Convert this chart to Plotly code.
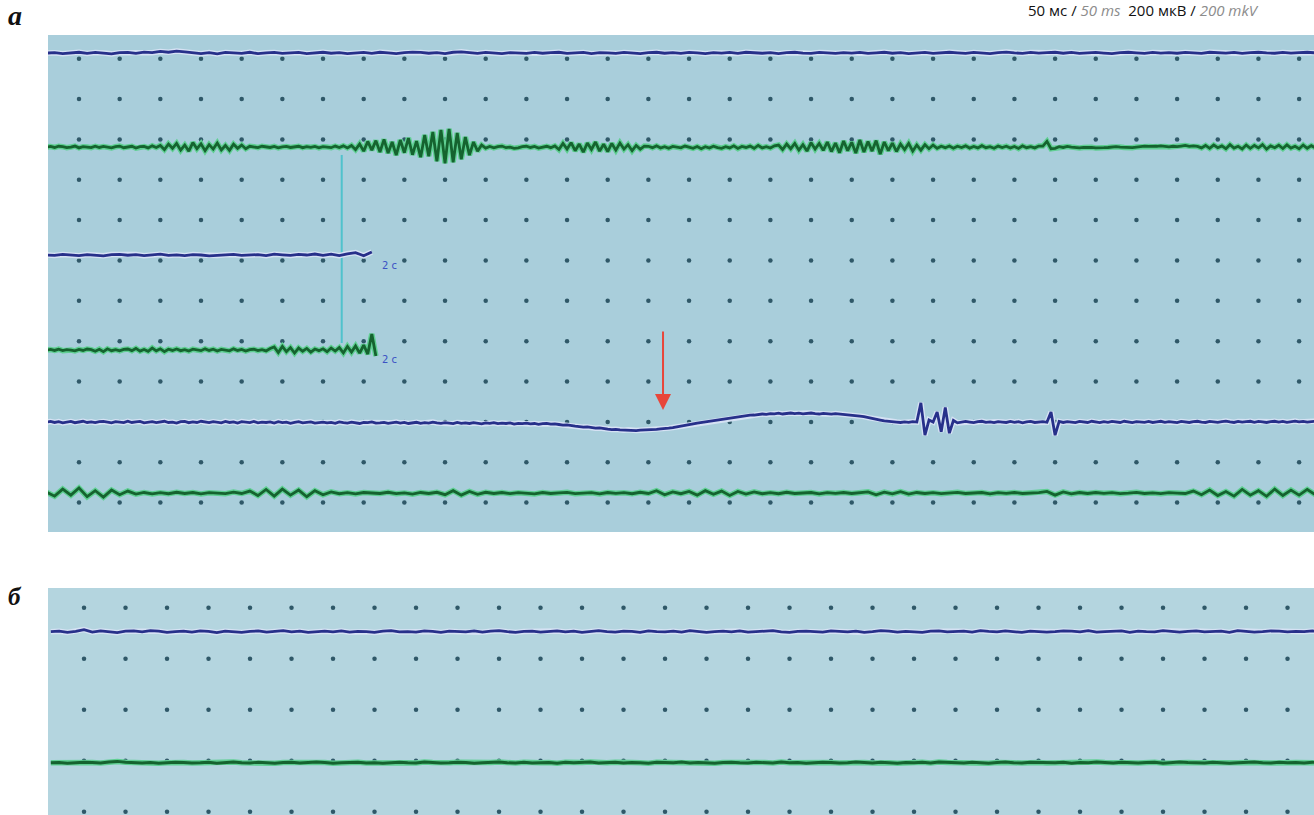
import numpy as np
import plotly.graph_objects as go

# ---------------- data (time in ms, amplitude in µV) ----------------
# panel a: grid 50 ms x 200 µV
grid_t_a = list(range(0, 1501, 50))
grid_v_a = list(range(0, -2201, -200))
# panel б grid
grid_t_b = list(range(0, 1451, 50))
grid_v_b = list(range(0, -801, -200))

# channel baselines (µV)
base_a = [28, -438, -973, -1444, -1801, -2153]
base_b = [-94, -608]

# A1 blue top, 10 ms step from -40 ms
a1 = [0, 2, -3, 1, 4, -2, 3, 0, -4, 2,
      3, -2, 5, 2, 8, 4, 10, 6, 3, -3,
      2, -4, 3, 0, -2, 4, -3, 1, 3, -2,
      0, 3, -3, 2, 4, -1, 2, -3, 1, 3,
      -2, 4, 1, -3, 2, 5, 3, -1, 2, -3,
      4, 6, 2, -2, 3, 0, -3, 2, 1, -2,
      3, -1, 2, 4, -2, 0, 3, -3, 2, 1,
      -2, 3, 0, -3, 2, 4, -1, 2, -2, 3,
      1, -3, 2, 0, 3, -2, 4, 1, -1, 2,
      -3, 2, 4, 0, -2, 3, 1, -2, 2, 0,
      3, -2, 1, 4, -1, 2, -3, 0, 3, -2,
      2, 4, 1, -2, 3, 0, -3, 2, 5, 1,
      -2, 3, 0, 2, 4, -1, 3, -2, 1, 3,
      0, -3, 2, 4, 1, -2, 3, 0, 2, -1,
      3, 1, -2, 4, 2, 0, 3, -2, 2, 4,
      1, -1, 3, 0, 2, 4, 1]

# A2 green, 5 ms step from -40 ms
a2 = [0, 3, -2, 4, 2, -3, 0, 5, -4, 2, 0, -3, 4, -2, 3, 0, -4, 2, 5, -3, 0, 4, -5, 2, 3, -4, 6, -2,
      8, -12, 15, -6, 18, -15, 10, -20, 22, -8, 16, -18, 12, -10, 20, -14, 8, -16, 14, -6, 10, -8, 4,
      2, -3, 4, 0, -2, 3, -4, 1, 3, -2, 0, 4, -3, 2, -1, 3, -4, 2, 0, -3, 5, -2, 6, -4,
      8, -12, 15, -20, 28, -15, 32, -25, 38, -30, 25, -40, 35, -28, 45, -38, 30,
      -50, 60, -45, 75, -70, 85, -80, 90, -75, 70, -60, 50, -40, 25, -20, 10, -5,
      3, -4, 2, 5, -3, 0, -6, -4, 2, 4, -2, 3, -5, 0, 4, -3, 6,
      -12, 18, -10, 22, -18, 15, -25, 20, -12, 25, -20, 14, -22, 18, -15, 20, -10, 12, -18, 8, -10, 5,
      4, -3, 6, -5, 2, -6, 3, 0, -4, 5, -2, -6, 3, -8, 2, -5, 4, -3, -6, 2, -4, 6, -7, 3, -2, 5, -6, 8, -4, 2, -5, 6,
      10, -12, 15, -8, 18, -15, 12, -20, 22, -10, 18, -16, 25, -22, 20, -28, 30, -18, 24, -30, 35,
      -25, 28, -20, 32, -35, 25, -18, 20, -22, 15, -12, 18, -20, 10, -15, 12, -8, 10, -6, 4,
      -3, 5, -6, 4, -2, 6, -5, 3, -4, 7, -3, 2, -6, 5, -2, 4, -5, 3, -7, 6, -3, 2, -4, 5, 5, 28, -8,
      -6, 2, -2, 3, 0, -3, -4, -2, 0, -1, -4, -5, -3, -2, 0, 2, 0, -2, -4, -3, 0, 3, 5, 3, 2, 4, 6, 3, 1, 4, 2, 5, 8, 4, 6, 3,
      -4, 8, -6, 10, -3, 6, -8, 12, -5, 4, -9, 10, -6, 8, -4, 12, -10, 6, -3, 9, -7, 11, -5, 4, -8, 10, -6, 7, -4]

# A3 blue short (ends at 2 s mark), 10 ms step from -40 ms
a3 = [0, -2, 3, 1, -3, 2, 0, -4, 2, 3, -1, 2, -3, 0, 4, -2, 1, -3, 2, 0,
      -4, -2, 1, 3, -2, 0, 2, -3, 4, 1, -2, 3, 0, 5, -2, 4, -3, 6, 12, -4, 15]

# A4 green short, 5 ms step from -40 ms
a4 = [0, 3, -2, 4, -3, 2, 0, -4, 3, -2, 5, 2, -6, 4, -8, 6, -3, 2, -4, 3,
      5, -3, 8, -5, 3, -6, 10, -4, 6, -8, 4, -2, 5, -3, 2, -5, 4, 0, -3, 6,
      -2, 4, -5, 3, 0, -4, 6, -2, 3, -5, 2, 4, -3, 2, -4, 8, 15, -12, 18, -8,
      12, -15, 10, -6, 8, -10, 5, -3, 6, -8, 10, -5, 12, -14, 18, -10, 20, -15, 25, -20, 80, -30]

# A5 blue with slow wave and spikes, 5 ms step from -40 ms
a5 = [0, 3, -2, 2, -4, 1, 3, -3, 0, 4, -2, 1, -3, 2,
      3, -1, -4, 2, 0, -3, 4, -2, 1, 3, -4, 0, 2, -3,
      1, 4, -2, 0, -5, 2, 3, -3, 1, -2, 4, -1, -3, 2,
      0, -4, 3, -2, 1, -5, 2, -1, -3, 3, -4, 0, -2, 1,
      -5, 2, -3, 0, -6, -1, 2, -4, -2, 1, -5, -3, 0, -4,
      -2, -6, 1, -3, -5, 0, -4, -7, -2, -3, 1, -5, -4, -2,
      -6, -3, 0, -5, -2, -7, -4, -1, -6, -3, -5, 0, -4, -6,
      -3, -5, -8, -2, -6, -4, -7, -3, -5, -9, -4, -6, -3, -8,
      -5, -7, -4, -10, -6, -8, -5, -9, -7, -11, -8, -6, -10, -9,
      -12, -15, -14, -18, -20, -22, -25, -24, -28, -30, -29, -33, -35, -37, -36, -39, -40, -38,
      -41, -42, -40, -39, -41, -38, -36, -34, -33, -30, -27, -24, -21, -17, -13, -9, -5,
      -2, 2, 5, 9, 12, 16, 19, 22, 25, 28, 30, 32, 34, 35,
      37, 40, 38, 42, 41, 44, 40, 43, 45, 42, 44, 41, 43, 45, 42, 40, 43, 41, 39, 42, 40, 38, 36, 37, 34,
      30, 27, 22, 18, 14, 10, 6, 3, 1, 0, -2, 1, -1, 2, 0,
      95, -65, 10, 0, 50, -48, 72, -55, 8, -4,
      -2, 3, 0, -3, 2, 4, -1, 1, -3, 2, 0, -2, 3, -1, 2, -4, 1, 3, -2, 0, 2, -1,
      50, -65, 3,
      -2, 2, 0, -3, 3, 1, -2, 4, 0, -3, 2, -1, 3, 0, -2, 4, 1, -3, 2, 0, -1, 3, -2, 1, 4, -1, 2, 0, -3, 3, 1,
      -2, 2, 4, 0, -2, 3, 1, -1, 2, 5, 1, -2, 3, 0, 2, 4, -1, 3, 1, -2, 2, 4, 0, 3, -1, 2, 5, 1, 3, 0, 2, 4]

# A6 green bottom, 10 ms step from -40 ms
a6 = [5, -15, 20, -10, 25, -18, 12, -20, 15, -8, 10, -5, 3, -4, 2, -3, 4,
      -2, 3, -4, 2, 0, -3, 5, -2,
      10, -12, 18, -15, 20, -10, 15, -18, 12, -8, 6,
      -3, 2, -4, 3, 0, -2, 4, -3, 1, -5, 3, -2, 4,
      -8, 12, -10, 8, -6, 4,
      -2, 3, -3, 2, 0, -4, 3, -2, 1, 4, -3, 0, 2, -4, 3, -1, 2, -3, 4, -2,
      12, -8, 6, -3,
      8, -10, 12, -6, 10, -12, 8, -5, 6, -3,
      2, -3, 4, -2, 0, 3, -4, 2, -1, 3, -2, 1,
      6, -8, 5, -4, 7, -5, 3, -2,
      2, -3, 1, 4, -2, 0, 3, -4, 2, -1, 3, -2, 0, 2,
      8, -10, 6, -4, 3,
      -2, 3, -1, 2, -3, 0, 4, -2, 1, -3, 2, 0, -2,
      10, -8, 15, -12, 8, -15, 18, -10, 12, -16, 20, -12, 15, -10, 18, -8]

# panel б traces, 10 ms step from -40 ms
b1 = [0, 2, -3, 1, 8, -2, 3, 0, -4, 2, 3, -1, 4, 2, -3, 0, 2, -2, 3, 1, -4, 2, 0, -3, 1, 3, -2, 0, 4, -1,
      2, -3, 0, 2, -1, 3, -2, 1, 0, -3, 2, 4, -1, 0, -2, 3, 1, -3, 2, 0, -1, 3, -2, 2, 4, 0, -3, 1, 2, -2,
      0, 3, -1, 2, -3, 1, 4, 0, -2, 2, 1, -3, 3, 0, -1, 2, -2, 4, 1, -3, 0, 2, -1, 3, -2, 0, 2, 4, -1, -3,
      1, 2, 0, -2, 3, 1, -1, 2, -3, 0, 4, 2, -2, 1, 0, -3, 2, 3, -1, 0, 2, -2, 4, 1, -1, 3, 0, -3, 2, 1,
      -2, 0, 3, 2, -1, 4, -2, 0, 1, 3, -3, 2, 0, -1, 4, 2, -2, 1, 3, -1, 0, 2, -3, 4, 1, -2, 0, 3, 2, -1,
      1, 0, 3, -2]
b2 = [0, 1, -2, 0, 2, 1, -1, 3, 5, 2, 0, -1, 1, -2, 0, 2, 1, -1, 0, 2, -2, 1, 3, 0, -1, 2, 0, -2, 1, 2,
      -1, 0, 3, 1, -2, 0, 1, 2, -1, 0, -2, 1, 2, 0, -1, 3, 1, -1, 0, 2, 1, -2, 0, 1, 3, 0, -1, 2, -1, 0,
      1, -2, 2, 0, 1, 3, -1, 0, 2, -1, 1, 0, -2, 2, 1, 0, 3, -1, 1, 0, -2, 1, 2, 0, -1, 2, 1, -1, 3, 0,
      1, -2, 0, 2, 1, -1, 0, 3, 1, -1, 2, 0, -2, 1, 0, 2, -1, 3, 1, 0, -1, 2, 0, -2, 1, 3, 0, -1, 2, 1,
      -1, 0, 2, -2, 1, 0, 3, 1, -1, 2, 0, -1, 1, 2, -2, 0, 3, 1, 0, -1, 2, 1, -2, 0, 1, 3, 0, -1, 2, 0,
      1, -1, 2, 0]

# markers
cursor_t = 323
cursor_v = [-477, -1409]
arrow_t = 718
arrow_v = [-1345, -1741]
mark_2s_t = 370
mark_2s_v = [-1023, -1489]

# ---------------- figure ----------------
W, H = 1314, 815
BLUE, BLUE_HALO = "#27308a", "#d6e2f4"
GREEN, GREEN_HALO = "#15632f", "#5fcf92"

fig = go.Figure()


def add_signal(vals, base, t0, step, color, halo, xa, ya):
    t = t0 + step * np.arange(len(vals))
    y = base + np.asarray(vals, dtype=float)
    fig.add_trace(go.Scatter(x=t, y=y, mode="lines", line=dict(color=halo, width=5.5),
                             xaxis=xa, yaxis=ya, hoverinfo="skip", showlegend=False))
    fig.add_trace(go.Scatter(x=t, y=y, mode="lines", line=dict(color=color, width=2.8),
                             xaxis=xa, yaxis=ya, hoverinfo="skip", showlegend=False))


# grid dots
gx, gy = np.meshgrid(grid_t_a, grid_v_a)
fig.add_trace(go.Scatter(x=gx.ravel(), y=gy.ravel(), mode="markers",
                         marker=dict(color="#2f5868", size=4.5), xaxis="x", yaxis="y",
                         hoverinfo="skip", showlegend=False))
gx2, gy2 = np.meshgrid(grid_t_b, grid_v_b)
fig.add_trace(go.Scatter(x=gx2.ravel(), y=gy2.ravel(), mode="markers",
                         marker=dict(color="#2f5868", size=4.5), xaxis="x2", yaxis="y2",
                         hoverinfo="skip", showlegend=False))

# cursor line
fig.add_trace(go.Scatter(x=[cursor_t, cursor_t], y=cursor_v, mode="lines",
                         line=dict(color="#4fc2cc", width=2), xaxis="x", yaxis="y",
                         hoverinfo="skip", showlegend=False))

add_signal(a1, base_a[0], -40, 10, BLUE, BLUE_HALO, "x", "y")
add_signal(a2, base_a[1], -40, 5, GREEN, GREEN_HALO, "x", "y")
add_signal(a3, base_a[2], -40, 10, BLUE, BLUE_HALO, "x", "y")
add_signal(a4, base_a[3], -40, 5, GREEN, GREEN_HALO, "x", "y")
add_signal(a5, base_a[4], -40, 5, BLUE, BLUE_HALO, "x", "y")
add_signal(a6, base_a[5], -40, 10, GREEN, GREEN_HALO, "x", "y")
add_signal(b1, base_b[0], -40, 10, BLUE, BLUE_HALO, "x2", "y2")
add_signal(b2, base_b[1], -40, 10, GREEN, GREEN_HALO, "x2", "y2")

ax_common = dict(visible=False, showgrid=False, zeroline=False, fixedrange=True)
fig.update_layout(
    width=W, height=H,
    margin=dict(l=0, r=0, t=0, b=0),
    paper_bgcolor="white", plot_bgcolor="white",
    xaxis=dict(domain=[48 / W, 1], range=[-38.1, 1518.3], anchor="y", **ax_common),
    yaxis=dict(domain=[1 - 532 / H, 1 - 35 / H], range=[-2345.8, 117.5], anchor="x", **ax_common),
    xaxis2=dict(domain=[48 / W, 1], range=[-43.4, 1481.9], anchor="y2", **ax_common),
    yaxis2=dict(domain=[0, 1 - 588 / H], range=[-812.9, 77.3], anchor="x2", **ax_common),
    shapes=[
        dict(type="rect", xref="x domain", yref="y domain", x0=0, x1=1, y0=0, y1=1,
             fillcolor="#a9cedb", line=dict(width=0), layer="below"),
        dict(type="rect", xref="x2 domain", yref="y2 domain", x0=0, x1=1, y0=0, y1=1,
             fillcolor="#b4d5df", line=dict(width=0), layer="below"),
    ],
)

annotations = [
    dict(x=15 / W, y=1 - 15 / H, xref="paper", yref="paper", text="<b><i>a</i></b>",
         xanchor="center", yanchor="middle",
         showarrow=False, font=dict(family="Liberation Serif", size=28, color="#111")),
    dict(x=15 / W, y=1 - 596 / H, xref="paper", yref="paper", text="<b><i>б</i></b>",
         xanchor="center", yanchor="middle",
         showarrow=False, font=dict(family="Liberation Serif", size=25, color="#111")),
    dict(x=1026 / W, y=1 - 10 / H, xref="paper", yref="paper", xanchor="left", yanchor="middle",
         text='50 мс / <span style="color:#8c8c8c"><i>50 ms</i></span>&nbsp;&nbsp;200 мкВ / '
              '<span style="color:#8c8c8c"><i>200 mkV</i></span>',
         showarrow=False, font=dict(family="Open Sans", size=15, color="#111")),
    dict(x=arrow_t, y=arrow_v[1], ax=arrow_t, ay=arrow_v[0], xref="x", yref="y",
         axref="x", ayref="y", text="", showarrow=True, arrowhead=2, arrowsize=1.6,
         arrowwidth=2, arrowcolor="#e8463a"),
]
for v in mark_2s_v:
    annotations.append(dict(x=mark_2s_t, y=v, xref="x", yref="y", text="2 с", showarrow=False,
                            xanchor="left", font=dict(family="DejaVu Sans", size=10, color="#3b52c4")))
fig.update_layout(annotations=annotations)

fig.write_html("out.html", config={"displayModeBar": False},
               post_script="document.body.style.margin='0px';")
